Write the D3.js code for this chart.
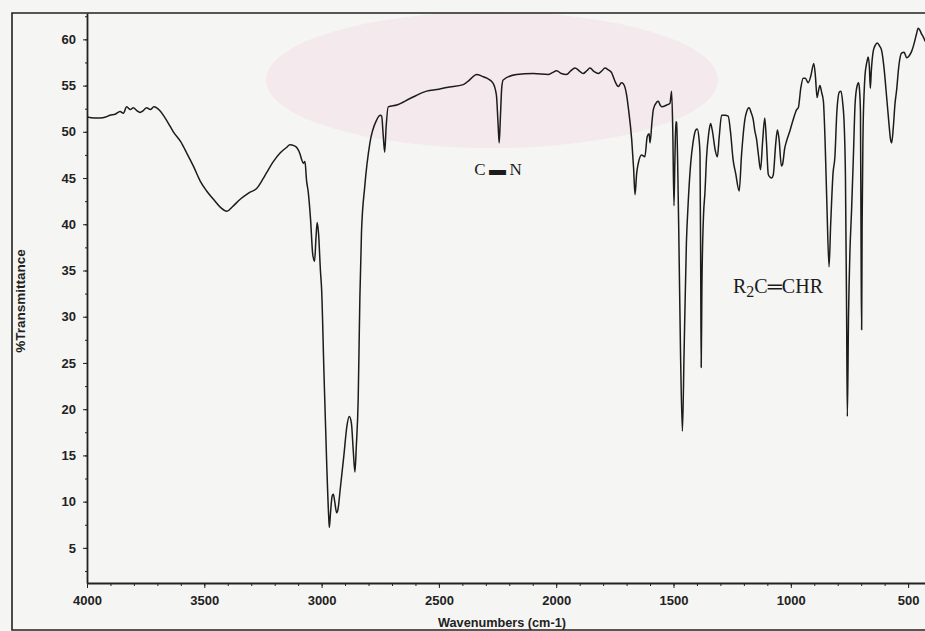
<html>

<head>
    <title>IR spectrum - %Transmittance vs Wavenumbers</title>
    <style>
        body {
            margin: 0;
            background: #f5f5f3;
        }

        .axis text {
            font-family: "Liberation Sans", Arial, sans-serif;
            font-weight: bold;
            font-size: 13px;
            fill: #222;
        }

        .axis path,
        .axis line {
            stroke: #222;
        }
    </style>
</head>

<body>
    <div id="my_dataviz"></div>
</body>

<script src="https://d3js.org/d3.v7.min.js"></script>

<script>

    // wavenumbers (cm-1)
    var wavenumbers = [
        4000, 3970, 3945, 3920, 3902, 3880, 3859, 3845, 3831, 3815, 3803, 3788, 3774, 3760, 3746, 3730, 3715, 3703, 3690, 3675,
        3655, 3632, 3600, 3575, 3545, 3518, 3490, 3461, 3430, 3404, 3380, 3347, 3310, 3276, 3250, 3234, 3205, 3177, 3150, 3135,
        3118, 3106, 3092, 3085, 3078, 3071, 3064, 3057, 3047, 3038, 3030, 3024, 3019, 3013, 3005, 3000, 2990, 2978, 2970, 2967,
        2962, 2955, 2950, 2944, 2936, 2930, 2920, 2905, 2892, 2882, 2873, 2865, 2858, 2852, 2844, 2837, 2830, 2816, 2794, 2765,
        2750, 2744, 2737, 2731, 2725, 2716, 2680, 2623, 2552, 2500, 2467, 2396, 2370, 2339, 2315, 2296, 2270, 2255, 2248, 2243,
        2238, 2232, 2226, 2169, 2098, 2034, 2016, 1998, 1978, 1956, 1938, 1920, 1902, 1885, 1870, 1856, 1838, 1820, 1805, 1792,
        1778, 1764, 1750, 1735, 1722, 1714, 1700, 1693, 1678, 1670, 1664, 1657, 1650, 1636, 1622, 1612, 1604, 1600, 1592, 1586,
        1572, 1565, 1557, 1550, 1529, 1515, 1508, 1503, 1498, 1494, 1490, 1487, 1478, 1470, 1462, 1455, 1445, 1438, 1427, 1417,
        1405, 1399, 1391, 1387, 1384, 1382, 1379, 1372, 1366, 1359, 1350, 1342, 1335, 1322, 1313, 1305, 1295, 1280, 1267, 1257,
        1246, 1235, 1220, 1210, 1196, 1188, 1178, 1168, 1160, 1154, 1146, 1138, 1129, 1120, 1111, 1104, 1096, 1089, 1082, 1075,
        1064, 1057, 1050, 1040, 1035, 1026, 1018, 1005, 990, 975, 968, 957, 947, 938, 926, 915, 902, 895, 888, 883,
        876, 868, 861, 854, 846, 837, 830, 820, 812, 804, 793, 786, 779, 772, 767, 762, 759, 754, 748, 741,
        733, 726, 718, 711, 707, 703, 700, 698, 696, 692, 687, 684, 676, 670, 665, 661, 657, 648, 639, 631,
        622, 613, 603, 594, 582, 575, 570, 563, 556, 549, 540, 528, 517, 506, 496, 485, 476, 471, 464, 457,
        450, 443, 436, 429, 420
    ];

    // %Transmittance at each wavenumber above
    var transmittance = [
        51.6, 51.5, 51.5, 51.6, 51.8, 51.9, 52.2, 52.0, 52.7, 52.4, 52.6, 52.3, 52.1, 52.3, 52.6, 52.4, 52.7, 52.6, 52.3, 51.8,
        51.0, 50.0, 48.9, 47.7, 46.2, 44.7, 43.6, 42.7, 41.8, 41.4, 41.9, 42.7, 43.4, 43.9, 44.9, 45.6, 46.8, 47.7, 48.3, 48.6,
        48.5, 48.3, 47.6, 47.0, 46.6, 46.8, 44.7, 43.5, 40.5, 36.8, 36.0, 38.5, 40.2, 39.0, 35.0, 33.0, 24.0, 13.9, 8.5, 7.2,
        8.8, 10.6, 10.8, 10.0, 8.8, 9.2, 11.5, 15.0, 18.2, 19.2, 18.5, 15.5, 13.2, 16.0, 21.1, 31.9, 39.1, 44.1, 48.8, 51.3,
        51.8, 51.7, 49.5, 47.8, 50.5, 52.7, 52.9, 53.6, 54.4, 54.6, 54.8, 55.1, 55.6, 56.2, 56.0, 55.8, 55.3, 54.0, 51.0, 48.8,
        51.5, 54.8, 55.6, 56.2, 56.3, 56.2, 56.4, 56.6, 56.3, 56.2, 56.6, 56.9, 56.6, 56.3, 56.6, 56.9, 56.5, 56.3, 56.6, 56.9,
        56.7, 56.4, 55.5, 54.9, 55.3, 55.2, 54.0, 52.7, 49.1, 46.0, 43.2, 45.5, 46.6, 47.5, 47.3, 49.5, 49.8, 48.8, 51.0, 52.4,
        53.2, 53.3, 52.9, 52.7, 52.9, 53.1, 54.4, 50.0, 42.0, 47.0, 51.1, 51.0, 40.0, 26.0, 17.6, 26.0, 38.0, 42.0, 46.5, 48.8,
        50.2, 50.3, 49.2, 47.5, 35.0, 24.5, 33.0, 41.0, 43.4, 47.3, 49.8, 50.9, 50.2, 48.0, 47.3, 49.5, 51.8, 51.8, 51.7, 50.0,
        47.0, 45.5, 43.6, 47.5, 51.3, 52.2, 52.6, 52.0, 51.3, 50.2, 49.2, 47.5, 45.9, 49.0, 51.5, 49.0, 45.4, 45.1, 45.0, 45.3,
        48.8, 50.2, 49.2, 46.3, 46.5, 48.2, 49.0, 50.0, 51.3, 52.4, 52.6, 54.8, 55.8, 55.8, 55.3, 56.0, 57.4, 56.0, 53.7, 54.3,
        55.0, 54.2, 53.3, 49.1, 42.0, 35.4, 40.0, 45.5, 47.3, 52.0, 54.3, 54.4, 53.2, 50.5, 45.0, 30.0, 19.2, 30.0, 37.0, 41.5,
        47.5, 53.0, 54.9, 55.3, 54.5, 52.0, 35.0, 28.6, 40.0, 50.0, 54.5, 56.0, 57.5, 58.1, 57.0, 54.7, 56.5, 58.8, 59.4, 59.6,
        59.3, 58.8, 57.0, 54.5, 51.0, 49.2, 48.8, 50.5, 53.0, 54.5, 57.0, 58.5, 58.6, 58.0, 58.2, 58.7, 59.4, 59.9, 60.6, 61.2,
        61.0, 60.6, 60.3, 59.9, 59.6
    ];

    var yTicks = [5, 10, 15, 20, 25, 30, 35, 40, 45, 50, 55, 60];
    var xTicks = [4000, 3500, 3000, 2500, 2000, 1500, 1000, 500];

    var data = wavenumbers.map(function (w, i) { return { w: w, t: transmittance[i] }; });

    var W = 925, H = 631;
    var margin = { top: 13, left: 87, bottom: 48 };
    var plotBottom = H - margin.bottom;   // 583

    var svg = d3.select("#my_dataviz")
        .append("svg")
        .attr("width", W)
        .attr("height", H);

    // faint pink seal behind the plot (scan watermark)
    svg.append("ellipse")
        .attr("cx", 492)
        .attr("cy", 80)
        .attr("rx", 226)
        .attr("ry", 68)
        .style("fill", "#f4dde6")
        .style("opacity", 0.5);

    // outer frame of the printout
    svg.append("path")
        .attr("d", "M" + W + ",13 H12 V630 H" + W)
        .style("fill", "none")
        .style("stroke", "#222")
        .style("stroke-width", 1.6);

    var x = d3.scaleLinear()
        .domain([4000, 400])
        .range([margin.left, margin.left + 3600 * 0.2346]);

    var y = d3.scaleLinear()
        .domain([1.2, 62.85])
        .range([plotBottom, margin.top]);

    // X axis: minor ticks every 100, labelled every 500
    svg.append("g")
        .attr("class", "axis")
        .attr("transform", "translate(0," + plotBottom + ")")
        .call(d3.axisBottom(x).tickValues(d3.range(500, 4001, 100)).tickSize(3).tickFormat(""))
        .call(function (g) { g.select(".domain").remove(); });

    svg.append("g")
        .attr("class", "axis")
        .attr("transform", "translate(0," + plotBottom + ")")
        .call(d3.axisBottom(x).tickValues(xTicks).tickSize(5).tickSizeOuter(0).tickPadding(8).tickFormat(d3.format("d")))
        .call(function (g) { g.select(".domain").style("stroke-width", 1.8); });

    // Y axis
    svg.append("g")
        .attr("class", "axis")
        .attr("transform", "translate(" + margin.left + ",0)")
        .call(d3.axisLeft(y).tickValues(d3.range(2.5, 62.6, 2.5)).tickSize(2).tickFormat(""))
        .call(function (g) { g.select(".domain").remove(); });

    svg.append("g")
        .attr("class", "axis")
        .attr("transform", "translate(" + margin.left + ",0)")
        .call(d3.axisLeft(y).tickValues(yTicks).tickSize(4).tickSizeOuter(0).tickPadding(7))
        .call(function (g) { g.select(".domain").style("stroke-width", 1.8); });

    // axis titles
    svg.append("text")
        .attr("x", 502)
        .attr("y", 627)
        .attr("text-anchor", "middle")
        .style("font-family", "'Liberation Sans', Arial, sans-serif")
        .style("font-weight", "bold")
        .style("font-size", "12.7px")
        .style("fill", "#222")
        .text("Wavenumbers (cm-1)");

    svg.append("text")
        .attr("transform", "translate(25,301) rotate(-90)")
        .attr("text-anchor", "middle")
        .style("font-family", "'Liberation Sans', Arial, sans-serif")
        .style("font-weight", "bold")
        .style("font-size", "13.5px")
        .style("fill", "#222")
        .text("%Transmittance");

    // spectrum
    svg.append("clipPath")
        .attr("id", "plotclip")
        .append("rect")
        .attr("x", margin.left)
        .attr("y", margin.top)
        .attr("width", W - margin.left)
        .attr("height", plotBottom - margin.top);

    var line = d3.line()
        .x(function (d) { return x(d.w); })
        .y(function (d) { return y(d.t); })
        .curve(d3.curveMonotoneX);

    svg.append("path")
        .datum(data)
        .attr("clip-path", "url(#plotclip)")
        .attr("d", line)
        .style("fill", "none")
        .style("stroke", "#1c1c1c")
        .style("stroke-width", 1.5)
        .style("stroke-linejoin", "round");

    // band annotations
    svg.append("text")
        .attr("x", 498)
        .attr("y", 175)
        .attr("text-anchor", "middle")
        .style("font-family", "'Liberation Serif', 'Times New Roman', serif")
        .style("font-size", "17px")
        .style("fill", "#1c1c1c")
        .text("C\u2009\u25AC\u2009N");

    var ann = svg.append("text")
        .attr("x", 733)
        .attr("y", 293)
        .style("font-family", "'Liberation Serif', 'Times New Roman', serif")
        .style("font-size", "20px")
        .style("fill", "#1c1c1c");
    ann.append("tspan").text("R");
    ann.append("tspan").attr("dy", 4).style("font-size", "16px").text("2");
    ann.append("tspan").attr("dy", -4).text("C\u2550CHR");

</script>

</html>
